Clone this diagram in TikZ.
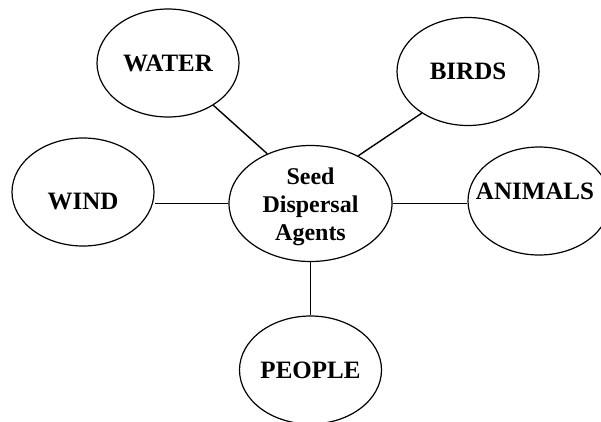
\documentclass[tikz,border=0pt]{standalone}
\usepackage{fontspec}
\setmainfont{Liberation Serif}
\usetikzlibrary{shapes.geometric}

\tikzset{
  agent/.style={draw, ellipse, line width=1.2pt, minimum width=142pt, minimum height=108pt, inner sep=0pt},
  tag/.style={font=\fontsize{25}{28}\selectfont\bfseries, inner sep=0pt, align=center},
  link/.style={line width=1.4pt}
}

\begin{document}
\begin{tikzpicture}[x=1pt,y=-1pt]
\useasboundingbox (0,0) rectangle (601,421);
\node[agent, minimum width=163pt, minimum height=116pt, label={[tag, font=\fontsize{24}{28}\selectfont\bfseries, yshift=-3pt]center:Seed\\Dispersal\\Agents}] (seed) at (310.5,203.5) {};
\node[agent, label={[tag]center:WATER}] (water) at (168,63) {};
\node[agent, label={[tag]center:BIRDS}] (birds) at (468,71.5) {};
\node[agent, label={[tag, yshift=-9.5pt]center:WIND}] (wind) at (83,192) {};
\node[agent, label={[tag, xshift=-4pt, yshift=10pt]center:ANIMALS}] (animals) at (539,201) {};
\node[agent, label={[tag]center:PEOPLE}] (people) at (310.5,370) {};
\draw[link] (water.317) -- (seed.131);
\draw[link] (birds.222) -- (seed.45);
\draw[link] (seed.west) -- (seed.west -| wind.east);
\draw[link] (seed.east) -- (seed.east -| animals.west);
\draw[link] (seed.south) -- (people.north);
\end{tikzpicture}
\end{document}
